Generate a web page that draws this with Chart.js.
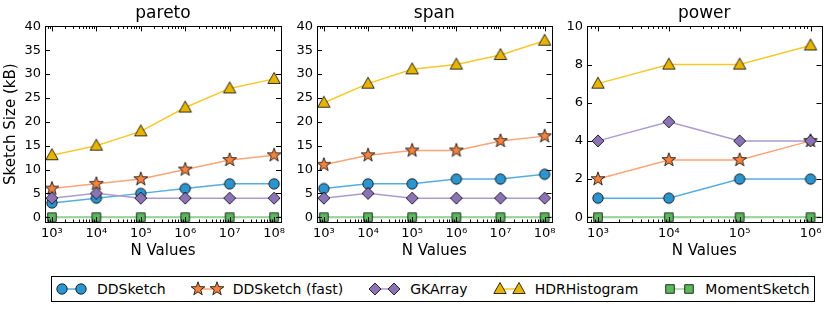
<!DOCTYPE html>
<html>
<head>
<meta charset="utf-8">
<script src="https://cdn.jsdelivr.net/npm/chart.js@4.4.0/dist/chart.umd.min.js"></script>
<style>
  body { margin: 0; background: #fff; }
  #wrap { position: relative; width: 830px; height: 310px; font-family: "DejaVu Sans", sans-serif; }
  canvas.panel { position: absolute; top: 0; }
  #legend { position: absolute; left: 51px; top: 276px; width: 760px; height: 24px; border: 1px solid #000;
            display: flex; align-items: center; gap: 24px; padding-left: 2px; box-sizing: content-box; }
  #legend .item { display: flex; align-items: center; font-size: 14px; color: #000; }
  #legend .item span { margin-left: 3px; }
</style>
</head>
<body>
<div id="wrap">
  <canvas class="panel" id="c1" width="290" height="262" style="left:0"></canvas>
  <canvas class="panel" id="c2" width="270" height="262" style="left:290px"></canvas>
  <canvas class="panel" id="c3" width="270" height="262" style="left:560px"></canvas>
  <div id="legend"></div>
</div>
<script>
// data
const seriesNames = ['DDSketch', 'DDSketch (fast)', 'GKArray', 'HDRHistogram', 'MomentSketch'];
const nLong = [1e3, 1e4, 1e5, 1e6, 1e7, 1e8];
const nShort = [1e3, 1e4, 1e5, 1e6];

const paretoDD = [3, 4, 5, 6, 7, 7];
const paretoFast = [6, 7, 8, 10, 12, 13];
const paretoGK = [4, 5, 4, 4, 4, 4];
const paretoHDR = [13, 15, 18, 23, 27, 29];
const paretoMoment = [0, 0, 0, 0, 0, 0];

const spanDD = [6, 7, 7, 8, 8, 9];
const spanFast = [11, 13, 14, 14, 16, 17];
const spanGK = [4, 5, 4, 4, 4, 4];
const spanHDR = [24, 28, 31, 32, 34, 37];
const spanMoment = [0, 0, 0, 0, 0, 0];

const powerDD = [1, 1, 2, 2];
const powerFast = [2, 3, 3, 4];
const powerGK = [4, 5, 4, 4];
const powerHDR = [7, 8, 8, 9];
const powerMoment = [0, 0, 0, 0];

const yTicks40 = [0, 5, 10, 15, 20, 25, 30, 35, 40];
const yTicks10 = [0, 2, 4, 6, 8, 10];

// look
const markerKind = ['circle', 'star', 'diamond', 'triangle', 'square'];
const fillColors = ['#2d95cd', '#f7843e', '#8b73b5', '#e7b500', '#5cb85c'];
const lineColors = ['#55addf', '#faa477', '#ab9bcf', '#f5c92c', '#97d497'];

function drawShape(g, kind, x, y, fill) {
  g.save();
  g.fillStyle = fill;
  g.strokeStyle = '#000';
  g.lineWidth = 0.8;
  g.beginPath();
  if (kind === 'circle') {
    g.arc(x, y, 5.2, 0, Math.PI * 2);
  } else if (kind === 'star') {
    for (let i = 0; i < 10; i++) {
      const r = i % 2 === 0 ? 7.2 : 2.9;
      const a = -Math.PI / 2 + i * Math.PI / 5;
      const px = x + r * Math.cos(a), py = y + r * Math.sin(a);
      if (i === 0) g.moveTo(px, py); else g.lineTo(px, py);
    }
    g.closePath();
  } else if (kind === 'diamond') {
    g.moveTo(x, y - 6); g.lineTo(x + 6, y); g.lineTo(x, y + 6); g.lineTo(x - 6, y); g.closePath();
  } else if (kind === 'triangle') {
    g.moveTo(x, y - 6.5); g.lineTo(x + 6.2, y + 4.5); g.lineTo(x - 6.2, y + 4.5); g.closePath();
  } else {
    g.rect(x - 4.3, y - 4.3, 8.6, 8.6);
  }
  g.fill();
  g.stroke();
  g.restore();
}

function makeMarker(i) {
  const c = document.createElement('canvas');
  c.width = 18; c.height = 18;
  drawShape(c.getContext('2d'), markerKind[i], 9, 9, fillColors[i]);
  return c;
}
const markers = seriesNames.map((_, i) => makeMarker(i));

const sup = '⁰¹²³⁴⁵⁶⁷⁸⁹';
const font = 'DejaVu Sans';

// inward ticks, frame and the zero line
const framePlugin = {
  id: 'frame',
  beforeDatasetsDraw(chart) {
    const { ctx, chartArea: a, scales: { y } } = chart;
    const py = y.getPixelForValue(0);
    ctx.save();
    ctx.strokeStyle = lineColors[4];
    ctx.lineWidth = 2;
    ctx.beginPath(); ctx.moveTo(a.left, py); ctx.lineTo(a.right, py); ctx.stroke();
    ctx.restore();
  },
  afterDraw(chart) {
    const { ctx, chartArea: a, scales: { x, y } } = chart;
    ctx.save();
    ctx.strokeStyle = '#000';
    ctx.lineWidth = 1;
    const seg = (x1, y1, x2, y2) => { ctx.beginPath(); ctx.moveTo(x1, y1); ctx.lineTo(x2, y2); ctx.stroke(); };
    x.ticks.forEach(t => {
      const px = Math.round(x.getPixelForValue(t.value)) + 0.5;
      seg(px, a.bottom, px, a.bottom - 5);
      seg(px, a.top, px, a.top + 5);
    });
    for (let e = Math.floor(Math.log10(x.min)); e <= Math.ceil(Math.log10(x.max)); e++) {
      for (let k = 2; k <= 9; k++) {
        const v = k * Math.pow(10, e);
        if (v < x.min || v > x.max) continue;
        const px = Math.round(x.getPixelForValue(v)) + 0.5;
        seg(px, a.bottom, px, a.bottom - 2.5);
        seg(px, a.top, px, a.top + 2.5);
      }
    }
    y.ticks.forEach(t => {
      const py = Math.round(y.getPixelForValue(t.value)) + 0.5;
      seg(a.left, py, a.left + 5, py);
      seg(a.right, py, a.right - 5, py);
    });
    ctx.strokeRect(Math.round(a.left) + 0.5, Math.round(a.top) + 0.5, Math.round(a.right - a.left), Math.round(a.bottom - a.top));
    ctx.restore();
  }
};

function makeChart(id, title, nValues, series, yMin, yMax, yTicks, yWidth, rightPad, yTitle) {
  const datasets = series.map((vals, i) => ({
    label: seriesNames[i],
    data: nValues.map((n, j) => ({ x: n, y: vals[j] })),
    borderColor: lineColors[i],
    borderWidth: 1.5,
    pointStyle: markers[i],
    pointRadius: 7,
    order: series.length - i,
    tension: 0
  }));
  return new Chart(document.getElementById(id), {
    type: 'line',
    data: { datasets },
    plugins: [framePlugin],
    options: {
      responsive: false,
      animation: false,
      layout: { padding: { left: 0, right: rightPad, top: 0, bottom: 0 } },
      plugins: {
        legend: { display: false },
        tooltip: { enabled: false },
        title: {
          display: true, text: title, fullSize: false, color: '#000',
          font: { family: font, size: 17, weight: 'normal' },
          padding: { top: 3, bottom: 3 }
        }
      },
      scales: {
        x: {
          type: 'logarithmic',
          min: Math.pow(10, Math.log10(nValues[0]) - 0.155),
          max: Math.pow(10, Math.log10(nValues[nValues.length - 1]) + 0.155),
          grid: { display: false, drawTicks: false },
          border: { display: false },
          afterBuildTicks: s => { s.ticks = nValues.map(v => ({ value: v })); },
          afterFit: s => { s.height = 40; },
          ticks: {
            autoSkip: false, maxRotation: 0, padding: 4, color: '#000',
            font: { family: font, size: 13 },
            callback: v => '10' + String(Math.round(Math.log10(v))).split('').map(d => sup[d]).join('')
          },
          title: { display: true, text: 'N Values', color: '#000', font: { family: font, size: 15 }, padding: { top: 0, bottom: 2 } }
        },
        y: {
          min: yMin, max: yMax,
          grid: { display: false, drawTicks: false },
          border: { display: false },
          afterBuildTicks: s => { s.ticks = yTicks.map(v => ({ value: v })); },
          afterFit: s => { s.width = yWidth; },
          ticks: { autoSkip: false, padding: 4, color: '#000', font: { family: font, size: 13 } },
          title: { display: yTitle, text: 'Sketch Size (kB)', color: '#000', font: { family: font, size: 15 }, padding: { top: 2, bottom: 0 } }
        }
      }
    }
  });
}

makeChart('c1', 'pareto', nLong, [paretoDD, paretoFast, paretoGK, paretoHDR, paretoMoment], -1, 40, yTicks40, 45, 9, true);
makeChart('c2', 'span', nLong, [spanDD, spanFast, spanGK, spanHDR, spanMoment], -1, 40, yTicks40, 27, 7, false);
makeChart('c3', 'power', nShort, [powerDD, powerFast, powerGK, powerHDR, powerMoment], -0.25, 10, yTicks10, 27, 7, false);

// shared legend
const legend = document.getElementById('legend');
seriesNames.forEach((name, i) => {
  const item = document.createElement('div');
  item.className = 'item';
  const c = document.createElement('canvas');
  c.width = 40; c.height = 20;
  const g = c.getContext('2d');
  g.strokeStyle = lineColors[i];
  g.lineWidth = 1.5;
  g.beginPath(); g.moveTo(8, 10); g.lineTo(27, 10); g.stroke();
  drawShape(g, markerKind[i], 8, 10, fillColors[i]);
  drawShape(g, markerKind[i], 27, 10, fillColors[i]);
  const s = document.createElement('span');
  s.textContent = name;
  item.appendChild(c);
  item.appendChild(s);
  legend.appendChild(item);
});
</script>
</body>
</html>
